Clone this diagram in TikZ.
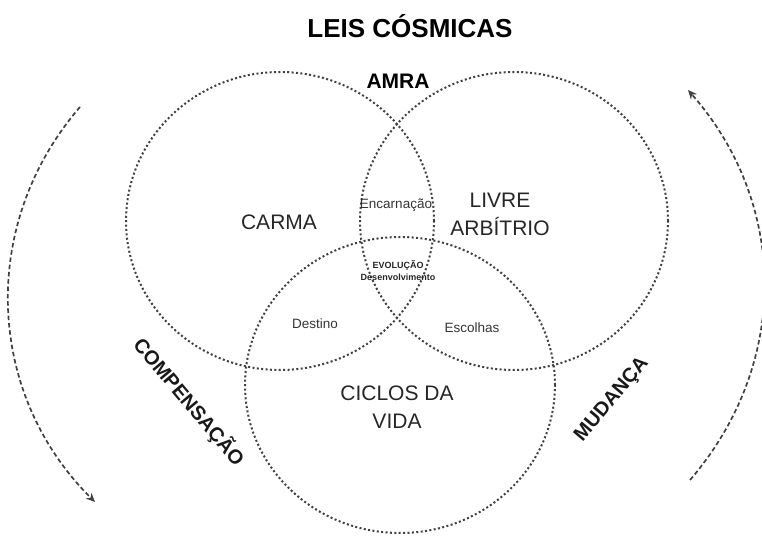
\documentclass[tikz,border=0pt]{standalone}
\usepackage{fontspec}
\setmainfont{Liberation Sans}
\usetikzlibrary{arrows.meta}
\definecolor{dotgray}{HTML}{404040}
\tikzset{
  ring/.style={draw=dotgray, line width=2pt, dash pattern=on 2pt off 2.4pt},
  flow/.style={draw=dotgray, line width=1.7pt, dash pattern=on 4.5pt off 2.8pt, -{Stealth[length=9pt,width=8pt]}},
  big/.style={font=\fontsize{21}{28}\selectfont, align=center, text=black!85},
  small/.style={font=\fontsize{13.5}{16}\selectfont, text=black!80},
  tiny/.style={font=\fontsize{9}{11}\selectfont\bfseries, text=black!85},
  heavy/.style={font=\fontsize{20}{24}\selectfont\bfseries, text=black!90},
}
\begin{document}
\begin{tikzpicture}[x=1pt,y=1pt]
\useasboundingbox (0,0) rectangle (762,536);
% circles
\draw[ring] (280,315) ellipse [x radius=154, y radius=149];
\draw[ring] (514,315) ellipse [x radius=154, y radius=149];
\draw[ring] (400,151) ellipse [x radius=155, y radius=148];
% titles
\node (title) at (410,510) {\fontsize{26}{30}\selectfont\bfseries LEIS CÓSMICAS};
\node[font=\fontsize{21}{24}\selectfont\bfseries] (amra) at (398,455) {AMRA};
% labels
\node[big] (carma) at (279,314) {CARMA};
\node[big] (livre) at (500,322) {LIVRE\\ARBÍTRIO};
\node[big] (ciclos) at (397,129) {CICLOS DA\\VIDA};
\node[small] (enc) at (396,331) {Encarnação};
\node[tiny] (evo) at (398,271) {EVOLUÇÃO};
\node[tiny] (des) at (398,259) {Desenvolvimento};
\node[small] (dest) at (315,212) {Destino};
\node[small] (esc) at (472,208) {Escolhas};
\node[heavy, rotate=-50] (comp) at (189,134) {COMPENSAÇÃO};
\node[heavy, rotate=50] (mud) at (612,136) {MUDANÇA};
% arrows
\coordinate (ltop) at (80,429);
\coordinate (lbot) at (95,34);
\coordinate (rbot) at (690,56);
\coordinate (rtop) at (688,446);
\draw[flow] (ltop) to[bend right=43] (lbot);
\draw[flow] (rbot) to[bend right=41] (rtop);
\end{tikzpicture}
\end{document}
